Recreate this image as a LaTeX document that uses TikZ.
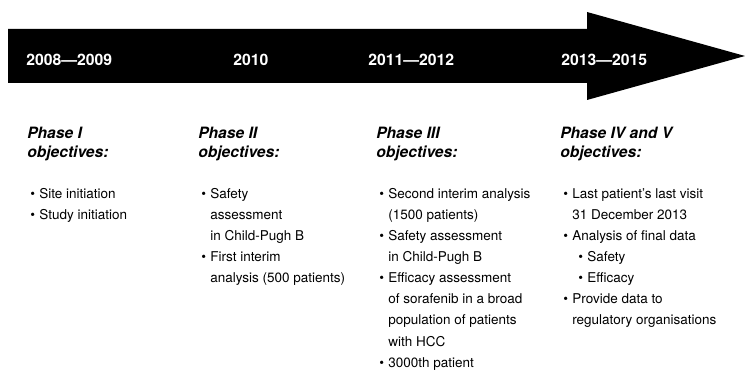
\documentclass[tikz,border=0pt]{standalone}
\usepackage{fontspec}
\setmainfont{TeX Gyre Heros}
\usepackage{tikz}

\tikzset{
  yearlabel/.style={anchor=base west,inner sep=0pt,text=white,font=\fontsize{11.2}{13}\selectfont\bfseries},
  phasehead/.style={anchor=base west,inner sep=0pt,font=\fontsize{11.1}{13.9}\selectfont\bfseries\itshape},
  objlist/.style={anchor=base west,inner sep=0pt,font=\fontsize{9.6}{15}\selectfont},
}
\newcommand{\subitm}[1]{\hspace{4.3pt}\textbullet\hspace{3.1pt}#1}

\begin{document}
\begin{tikzpicture}[line cap=round]
\useasboundingbox (0,0) rectangle (18.625,9.25);
\fill[black] (0.2,8.525) -- (14.675,8.525) -- (14.675,8.95) -- (18.625,7.85)
  -- (14.675,6.75) -- (14.675,7.175) -- (0.2,7.175) -- cycle;
\node[yearlabel] (y1) at (0.65,7.61) {2008---2009};
\node[yearlabel] (y2) at (5.825,7.61) {2010};
\node[yearlabel] (y3) at (9.2,7.61) {2011---2012};
\node[yearlabel] (y4) at (14.025,7.61) {2013---2015};
\node[phasehead] (ph1) at (0.675,5.79) {\begin{tabular}[t]{@{}l@{}}Phase I\\objectives:\end{tabular}};
\node[phasehead] (ph2) at (4.95,5.79) {\begin{tabular}[t]{@{}l@{}}Phase II\\objectives:\end{tabular}};
\node[phasehead] (ph3) at (9.4,5.79) {\begin{tabular}[t]{@{}l@{}}Phase III\\objectives:\end{tabular}};
\node[phasehead] (ph4) at (14.0,5.79) {\begin{tabular}[t]{@{}l@{}}Phase IV and V\\objectives:\end{tabular}};
% objectives of each phase
\node[objlist] (ob1) at (0.75,4.29) {\begin{tabular}[t]{@{}l@{\hspace{3.1pt}}l@{}}
  \textbullet & Site initiation\\
  \textbullet & Study initiation
\end{tabular}};
\node[objlist] (ob2) at (5.025,4.29) {\begin{tabular}[t]{@{}l@{\hspace{3.1pt}}l@{}}
  \textbullet & Safety\\
  & assessment\\
  & in Child-Pugh B\\
  \textbullet & First interim\\
  & analysis (500 patients)
\end{tabular}};
\node[objlist] (ob3) at (9.475,4.29) {\begin{tabular}[t]{@{}l@{\hspace{3.1pt}}l@{}}
  \textbullet & Second interim analysis\\
  & (1500 patients)\\
  \textbullet & Safety assessment\\
  & in Child-Pugh B\\
  \textbullet & Efficacy assessment\\
  & of sorafenib in a broad\\
  & population of patients\\
  & with HCC\\
  \textbullet & 3000th patient
\end{tabular}};
\node[objlist] (ob4) at (14.075,4.29) {\begin{tabular}[t]{@{}l@{\hspace{3.1pt}}l@{}}
  \textbullet & Last patient’s last visit\\
  & 31 December 2013\\
  \textbullet & Analysis of final data\\
  & \subitm{Safety}\\
  & \subitm{Efficacy}\\
  \textbullet & Provide data to\\
  & regulatory organisations
\end{tabular}};
\end{tikzpicture}
\end{document}
